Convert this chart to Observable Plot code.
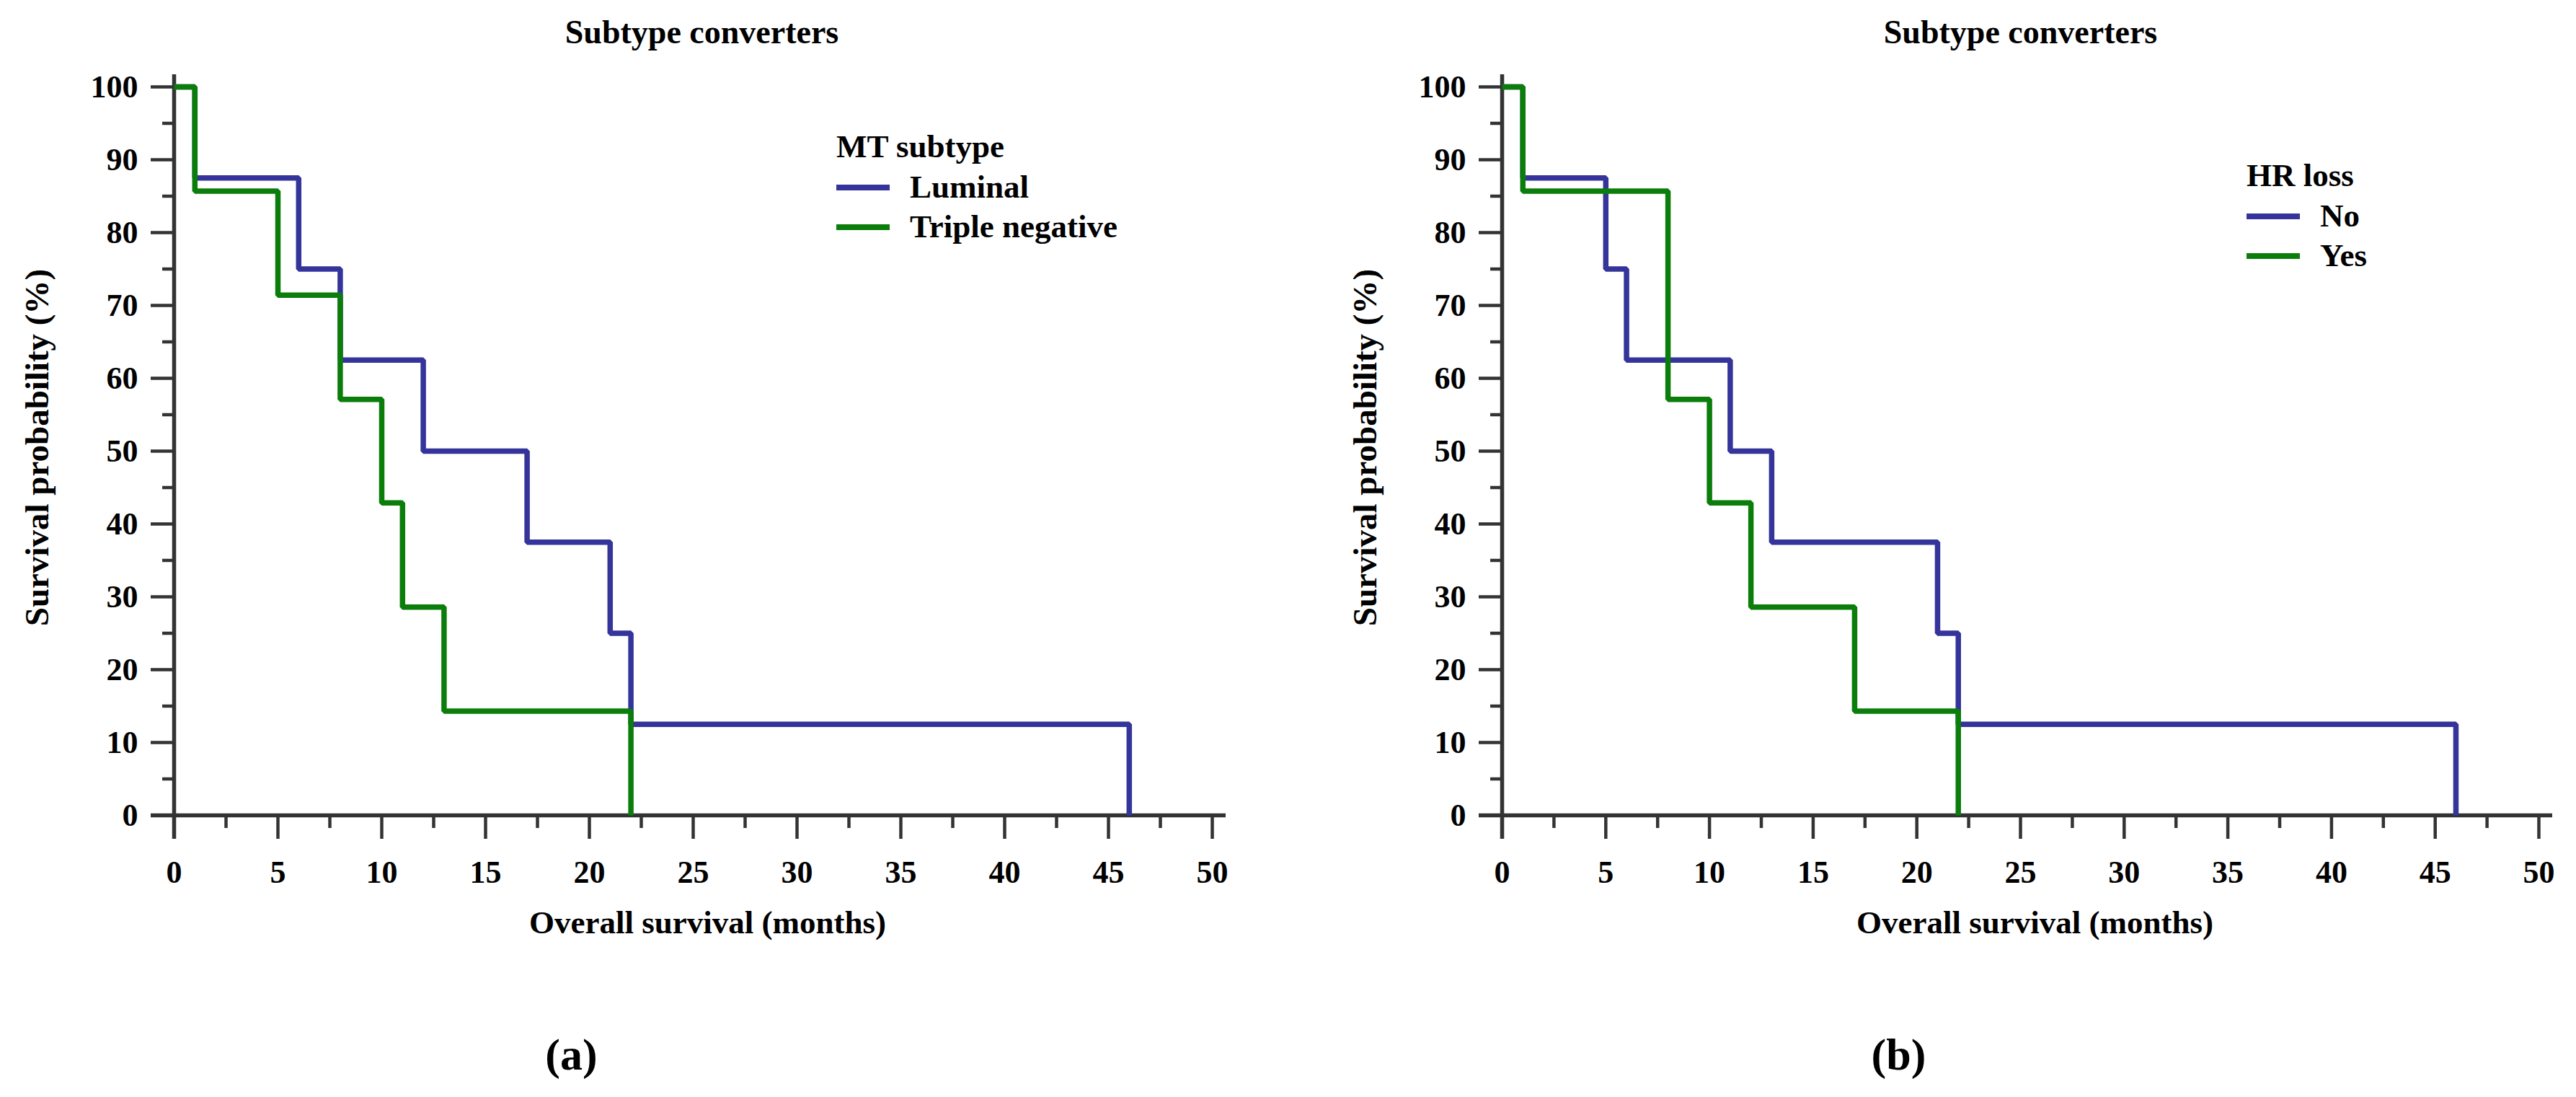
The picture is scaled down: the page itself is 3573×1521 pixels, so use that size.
<!DOCTYPE html>
<html>
<head>
<meta charset="utf-8">
<script src="https://cdn.jsdelivr.net/npm/d3@7"></script>
<script src="https://cdn.jsdelivr.net/npm/@observablehq/plot@0.6"></script>
<style>
  html, body { margin: 0; padding: 0; background: #ffffff; }
  #wrap { position: relative; width: 3573px; height: 1521px; display: flex; }
  #wrap > svg { flex: 0 0 auto; max-width: none !important; }
</style>
</head>
<body>
<div id="wrap"></div>
<script>
// ---------- data ----------
const xMajorTicks = [0, 5, 10, 15, 20, 25, 30, 35, 40, 45, 50];
const xMinorTicks = [2.5, 7.5, 12.5, 17.5, 22.5, 27.5, 32.5, 37.5, 42.5, 47.5];
const yMajorTicks = [0, 10, 20, 30, 40, 50, 60, 70, 80, 90, 100];
const yMinorTicks = [5, 15, 25, 35, 45, 55, 65, 75, 85, 95];

// Panel (a): MT subtype
const luminalTime = [0, 1, 6, 8, 12, 17, 21, 22, 46];
const luminalSurv = [100, 87.5, 75, 62.5, 50, 37.5, 25, 12.5, 0];
const tripleNegTime = [0, 1, 5, 8, 10, 11, 13, 22];
const tripleNegSurv = [100, 85.7, 71.4, 57.1, 42.9, 28.6, 14.3, 0];

// Panel (b): HR loss
const hrNoTime = [0, 1, 5, 6, 11, 13, 21, 22, 46];
const hrNoSurv = [100, 87.5, 75, 62.5, 50, 37.5, 25, 12.5, 0];
const hrYesTime = [0, 1, 8, 10, 12, 17, 22];
const hrYesSurv = [100, 85.7, 57.1, 42.9, 28.6, 14.3, 0];

const panelTitles = ["Subtype converters", "Subtype converters"];
const panelTags = ["(a)", "(b)"];
const legendTitles = ["MT subtype", "HR loss"];
const seriesNamesA = ["Luminal", "Triple negative"];
const seriesNamesB = ["No", "Yes"];
const seriesColors = ["#34349a", "#0b7d0b"];
const xLabel = "Overall survival (months)";
const yLabel = "Survival probability (%)";

// ---------- helpers ----------
function rows(name, times, surv) {
  return times.map((t, i) => ({ group: name, time: t, surv: surv[i] }));
}

const FONT = "'Liberation Serif', 'Times New Roman', serif";
const AXIS = "#333333";

function panel(cfg) {
  const data = cfg.series.flatMap(s => rows(s.name, s.time, s.surv));
  const common = { stroke: AXIS, fill: "black", fontSize: 44, fontWeight: "bold", fontFamily: FONT, label: null };
  const svg = Plot.plot({
    width: cfg.width,
    height: 1521,
    marginLeft: cfg.marginLeft,
    marginRight: cfg.marginRight,
    marginTop: 120,
    marginBottom: 391,
    style: { fontFamily: FONT, background: "white", overflow: "visible" },
    x: { domain: [0, 50] },
    y: { domain: [0, 100] },
    color: { domain: cfg.series.map(s => s.name), range: seriesColors },
    marks: [
      Plot.axisX(xMajorTicks, { ...common, tickSize: 33, tickPadding: 29, strokeWidth: 4.5, tickFormat: d => String(d) }),
      Plot.axisX(xMinorTicks, { ...common, tickSize: 18, text: null, strokeWidth: 4.5 }),
      Plot.axisY(yMajorTicks, { ...common, tickSize: 32, tickPadding: 18, strokeWidth: 4.5, tickFormat: d => String(d) }),
      Plot.axisY(yMinorTicks, { ...common, tickSize: 16, text: null, strokeWidth: 4.5 }),
      Plot.ruleY([0], { stroke: AXIS, strokeWidth: 5.5, insetLeft: -32, insetRight: -19 }),
      Plot.ruleX([0], { stroke: AXIS, strokeWidth: 5.5, insetTop: -17, insetBottom: -33 }),
      Plot.line(data, {
        x: "time", y: "surv", z: "group", stroke: "group",
        curve: "step-after", strokeWidth: 7.5,
        strokeLinejoin: "miter", strokeLinecap: "butt"
      }),
      Plot.text([cfg.title], { frameAnchor: "top", dx: cfg.titleDx, dy: -75, lineAnchor: "middle", textAnchor: "middle",
        fontSize: 46, fontWeight: "bold", fontFamily: FONT, fill: "black" }),
      Plot.text([xLabel], { frameAnchor: "bottom", dx: 20, dy: 149, lineAnchor: "middle", textAnchor: "middle",
        fontSize: 45, fontWeight: "bold", fontFamily: FONT, fill: "black" }),
      Plot.text([yLabel], { frameAnchor: "left", dx: -190, dy: -5, rotate: -90, lineAnchor: "middle", textAnchor: "middle",
        fontSize: 47, fontWeight: "bold", fontFamily: FONT, fill: "black" }),
      Plot.text([cfg.tag], { frameAnchor: "bottom", dx: -169, dy: 333, lineAnchor: "middle", textAnchor: "middle",
        fontSize: 62, fontWeight: "bold", fontFamily: FONT, fill: "black" })
    ]
  });

  // legend (inside the plotting area, top right)
  const L = cfg.legend;
  const g = d3.select(svg).append("g")
    .attr("font-family", FONT).attr("font-weight", "bold").attr("font-size", 45)
    .attr("fill", "black").attr("text-anchor", "start");
  g.append("text").attr("x", L.x).attr("y", L.y).text(cfg.legendTitle);
  cfg.series.forEach((s, i) => {
    const cy = L.y + 42 + i * 55;
    g.append("line").attr("x1", L.x).attr("x2", L.x + 74).attr("y1", cy).attr("y2", cy)
      .attr("stroke", seriesColors[i]).attr("stroke-width", 8);
    g.append("text").attr("x", L.x + 102).attr("y", cy + 14).text(s.name);
  });
  return svg;
}

const wrap = document.getElementById("wrap");
wrap.appendChild(panel({
  width: 1786, marginLeft: 241, marginRight: 105, titleDx: 12,
  title: panelTitles[0], tag: panelTags[0], legendTitle: legendTitles[0],
  legend: { x: 1160, y: 218 },
  series: [
    { name: seriesNamesA[0], time: luminalTime, surv: luminalSurv },
    { name: seriesNamesA[1], time: tripleNegTime, surv: tripleNegSurv }
  ]
}));
wrap.appendChild(panel({
  width: 1787, marginLeft: 297, marginRight: 52, titleDx: 0,
  title: panelTitles[1], tag: panelTags[1], legendTitle: legendTitles[1],
  legend: { x: 3116 - 1786, y: 258 },
  series: [
    { name: seriesNamesB[0], time: hrNoTime, surv: hrNoSurv },
    { name: seriesNamesB[1], time: hrYesTime, surv: hrYesSurv }
  ]
}));
</script>
</body>
</html>
